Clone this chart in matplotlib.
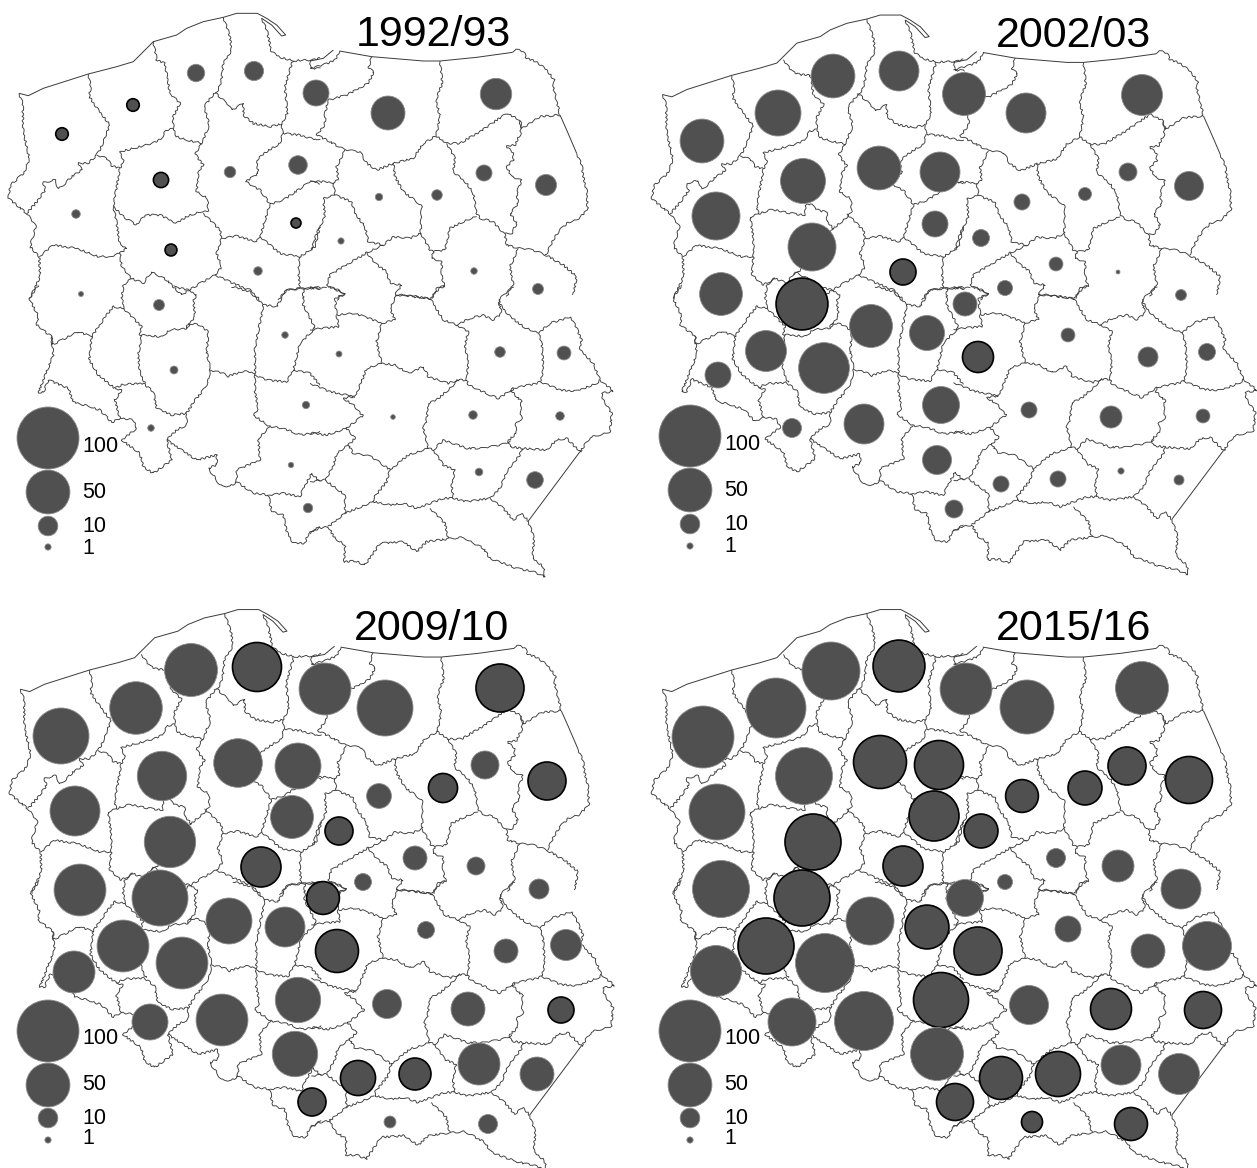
"""Four-panel proportional circle map of Poland's old voivodeships."""
import numpy as np
import matplotlib
matplotlib.use("Agg")
import matplotlib.pyplot as plt
from matplotlib.patches import Circle
from matplotlib.collections import LineCollection

plt.rcParams["font.family"] = ["Liberation Sans", "DejaVu Sans"]

W, H = 1257, 1168
FILL = "#505050"
BORDER = "#3a3a3a"
RADIUS_PER_SQRT = 3.1  # circle area is proportional to the value

TITLES = ["1992/93", "2002/03", "2009/10", "2015/16"]
LEGEND_VALUES = [100, 50, 10, 1]

# ── Borders, traced in four overlapping tiles of the first panel (tile px * 3) ──
# smooth sea coast and straight eastern frontier
COAST_A = [
    [(57,280),(85,287),(130,265),(265,222),(350,200),(400,185),(435,150),(460,125),(530,105),(560,85),(610,65),(670,52),(710,40),(772,40),(800,55),(830,75),(857,105),(845,108),(815,75),(785,55)],
]
COAST_B = [
    [(0,183),(40,175),(70,150)],
    [(88,153),(185,170),(340,183),(390,183),(500,172),(608,157)],
    [(750,345),(770,390),(800,460)],
]
COAST_D = [
    [(810,500),(655,708)],
]

TILE_A = [
    [(785,55),(800,90),(815,155),(840,172),(880,182),(930,180),(960,175)],
    [(57,280),(68,310),(70,395),(88,475),(75,515),(32,555),(25,595),(80,640),(108,680),(90,740),(118,770),(120,830),(90,895)],
    [(265,222),(272,260),(268,290),(295,330),(330,375),(315,410),(310,430),(290,465),(265,490),(235,490),(245,510),(215,530),(190,555),(175,565),(165,540),(130,548),(135,570),(115,600),(80,640)],
    [(290,465),(320,475),(335,497),(360,505),(370,480),(360,455),(440,435),(480,420),(500,390),(520,385)],
    [(510,280),(540,310),(520,350),(520,385),(530,410),(560,420),(605,430),(628,375),(612,320),(645,278),(680,310),(695,330),(730,310),(730,345),(760,370),(810,380),(845,372),(862,340),(855,260),(878,182)],
    [(670,52),(690,110),(695,150),(670,190),(665,235),(655,272),(645,278)],
    [(845,372),(848,400),(900,405),(950,420),(960,415)],
    [(848,400),(840,430),(800,455),(770,480),(775,520),(737,545),(780,570),(810,612),(850,600),(880,580),(930,545),(960,550)],
    [(605,430),(585,462),(610,495),(595,520),(590,575),(622,595),(625,635)],
    [(340,620),(355,530),(360,505)],
    [(395,835),(370,855),(365,900)],
    [(118,770),(160,735),(230,745),(295,770),(330,770)],
    [(610,640),(660,690),(665,715),(650,760),(665,800),(645,825),(600,850),(545,885),(500,840),(455,815),(430,850),(395,835)],
    [(665,715),(710,708),(770,725),(780,710),(810,612)],
    [(780,710),(840,760),(900,770),(945,740),(960,680)],
    [(900,770),(895,810),(900,865),(860,870),(835,900)],
    [(645,825),(700,850),(750,870),(780,900)],
    [(900,865),(960,865)],
    [(930,180),(930,205),(960,205)],
]
# the first season's map has other borders in the west-centre than the later ones
TILE_A_FIRST = [
    [(460,125),(470,180),(495,190),(510,280)],
    [(625,635),(600,635),(560,650),(530,670),(480,645),(435,645),(410,675),(370,650),(340,620)],
    [(340,620),(350,670),(360,735),(380,745),(360,760),(365,800),(395,835)],
    [(330,770),(360,760)],
]
TILE_A_LATER = [
    [(420,175),(445,210),(470,220),(500,220),(510,280)],
    [(625,635),(610,650),(570,685),(550,665),(552,635),(525,630),(500,610),(485,615),(485,645),(420,635),(385,627),(345,640),(340,620)],
    [(345,640),(320,650),(330,715),(330,770),(325,825),(360,855),(395,835)],
    [(570,685),(540,720),(500,790),(450,825)],
]
TILE_B = [
    [(0,205),(40,195),(75,180),(88,153)],
    [(608,157),(615,147),(640,155),(650,175),(680,185),(710,210),(733,240),(730,262),(750,345)],
    [(800,460),(815,495),(820,530),(830,570),(833,630),(800,660),(770,670),(745,695),(725,730),(707,765)],
    [(185,170),(175,205),(192,215),(175,250),(110,285),(55,300),(45,340),(45,375),(20,405),(50,420),(105,450),(150,455),(170,490),(200,510),(250,490),(310,475),(340,430),(378,408),(410,430),(450,430),(510,395),(590,340),(630,360),(635,385),(690,350),(750,345)],
    [(390,183),(397,250),(378,300),(390,350),(378,408)],
    [(630,360),(632,400),(615,435),(590,440),(610,460),(610,480),(590,500),(605,530),(635,540),(620,580),(625,610),(600,640),(620,670),(605,700),(585,700)],
    [(410,430),(435,475),(430,515),(470,550),(490,580),(500,640),(510,655),(550,665),(585,705),(590,735),(625,745),(670,750),(707,765),(760,795),(800,830),(790,885)],
    [(500,650),(470,660),(420,685),(405,750),(370,755),(365,775),(395,785),(395,830),(405,860),(380,865),(365,895)],
    [(105,450),(80,500),(85,540),(70,548),(40,545),(0,545)],
    [(70,548),(75,585),(125,605),(135,640),(165,680),(175,725),(220,735),(250,710),(300,715),(332,700),(335,620),(320,605),(280,575),(255,530),(250,490)],
    [(75,585),(40,595),(45,650),(20,700),(5,750)],
    [(332,700),(360,750),(370,755)],
    [(220,735),(170,758),(160,765),(100,800),(60,825),(50,855),(105,880),(80,900)],
    [(0,860),(50,865)],
    [(170,758),(195,790),(230,815),(240,850),(275,855),(255,885),(290,885),(350,895),(365,895)],
    [(625,745),(600,800),(610,850),(590,890)],
]
TILE_C = [
    [(960,725),(925,745),(915,775),(880,775),(860,740),(850,690),(815,680),(805,630),(760,625),(710,590),(690,605),(660,600),(625,550),(650,540),(650,510),(590,525),(500,465),(515,525),(460,565),(430,545),(420,505),(365,465),(410,430),(400,405),(360,400),(335,412),(300,375),(220,350),(205,310),(145,285),(130,322),(115,322),(160,210),(155,155),(110,120),(115,95),(88,40),(115,0)],
    [(370,45),(370,70),(340,65),(320,90),(275,155),(235,140),(195,160),(155,180),(155,155)],
    [(370,70),(425,125),(420,150),(485,155),(510,135),(560,130),(565,115),(600,120),(625,140),(620,200),(630,250),(625,290),(610,315),(585,345),(560,385),(515,390),(470,370),(460,320),(430,295),(370,298),(345,310),(295,270),(268,225),(275,155)],
    [(425,150),(415,210),(420,265),(435,295)],
    [(345,310),(365,315),(345,345),(360,400)],
    [(560,385),(560,420),(530,435),(500,465)],
    [(630,255),(670,265),(680,275),(730,258),(765,265),(765,190),(790,60),(830,65),(860,15),(910,10),(960,10)],
    [(790,60),(750,20),(695,5)],
    [(765,265),(765,320),(775,370),(760,390),(810,425),(850,430),(900,450),(960,440)],
    [(765,270),(800,285),(860,290),(880,255),(900,175),(945,130),(910,60),(910,10)],
    [(880,255),(930,265),(960,300)],
    [(810,425),(775,460),(780,525),(710,555),(710,590)],
    [(805,630),(850,625),(900,635),(910,610),(935,565),(960,590)],
    [(560,130),(585,95),(580,45),(590,30),(565,15),(520,5)],
]
TILE_D = [
    [(782,95),(800,130),(815,165),(810,195),(850,235),(870,285),(910,318),(875,325),(880,345),(905,385),(900,440),(840,458),(810,500)],
    [(655,708),(672,760),(668,820),(700,845),(705,875),(670,860),(620,850),(540,820),(520,790),(460,757),(410,762),(350,770),(320,800),(280,770),(210,775),(165,840),(135,828),(103,830),(105,780),(75,760),(55,725),(25,730),(0,745)],
    [(260,30),(240,70),(255,105),(215,115),(165,95),(130,85),(80,90),(75,40),(105,25),(55,5)],
    [(260,30),(360,40),(400,105),(440,120),(480,100),(520,90),(550,105),(575,85),(565,45),(610,5)],
    [(360,40),(400,0)],
    [(440,120),(475,140),(465,180),(475,235),(470,285),(475,300),(540,330),(565,340),(610,310),(605,320),(635,350),(630,380),(635,400),(615,420),(620,445),(595,465),(600,485),(635,490),(710,495),(740,465),(770,460),(805,495),(815,500)],
    [(610,310),(680,295),(690,290),(700,255),(695,170),(685,145),(720,115),(782,95)],
    [(690,290),(750,315),(800,318),(860,295),(870,285)],
    [(685,145),(640,125),(600,95),(575,65),(565,45)],
    [(215,115),(200,170),(215,235),(255,240),(295,265),(340,245),(355,275),(415,295),(445,285),(470,285)],
    [(215,235),(170,250),(155,290),(135,335),(100,340),(130,360),(158,392),(110,430),(135,460),(115,480),(130,505),(185,515),(240,555),(230,590),(190,640),(190,650),(240,660),(280,655),(320,670),(400,640),(430,640),(470,650),(540,640),(570,610),(590,560),(630,510),(635,490)],
    [(445,285),(420,310),(380,345),(355,355),(350,405),(340,430),(355,490),(370,495),(400,465),(470,490),(520,490),(590,475),(600,465)],
    [(355,490),(295,510),(240,555)],
    [(370,495),(400,540),(435,555),(425,600),(430,640)],
    [(540,640),(580,670),(610,705),(635,685),(655,708)],
    [(0,295),(60,320),(135,335)],
    [(110,430),(50,450),(0,445)],
    [(115,480),(80,505),(70,545),(45,585),(105,630),(105,685)],
    [(190,650),(105,685),(55,725)],
    [(360,670),(405,715),(415,760)],
    [(0,590),(45,585)],
    [(0,135),(35,130),(85,125),(80,90)],
]
ORIGIN_A, ORIGIN_B, ORIGIN_C, ORIGIN_D = (0, 0), (310, 0), (0, 285), (310, 285)

# ── Circles per season, in image pixels: centre, value, 1 = heavy black ring ──
X_1992 = [62,133,196,254,316,388,496,161,76,230,298,171,258,296,81,379,437,484,546,341,474,538,159,174,285,306,151,291,308,339,393,473,500,564,560,479,535]
Y_1992 = [134,105,73,71,93,113,94,180,214,172,165,250,271,223,294,197,195,173,185,241,271,289,305,370,335,405,428,465,508,354,417,415,352,353,416,472,480]
V_1992 = [4.1,4.1,7.9,9.6,17.6,30,25.6,6,1.9,3.4,9,3.7,1.9,2.6,0.65,1.4,2.9,6.7,11.5,1,1.1,3.1,3.1,1.6,1.1,1.4,1.1,0.75,2.3,0.9,0.55,1.9,2.9,5,1.9,1.5,7.2]
R_1992 = [1,1,0,0,0,0,0,1,0,0,0,1,0,1,0,0,0,0,0,0,0,0,0,0,0,0,0,0,0,0,0,0,0,0,0,0,0]

X_2002 = [833,899,964,1026,1142,778,702,803,879,940,716,812,1022,1085,1128,1189,935,981,721,802,903,1056,1118,1181,1005,965,871,927,1068,1148,1207,766,718,824,978,941,1029,1111,1203,792,864,937,1121,1058,1001,1179,954]
Y_2002 = [76,71,94,113,95,113,141,181,168,172,216,247,202,194,172,186,224,238,294,304,272,264,272,295,288,304,326,333,335,357,352,351,375,368,357,405,410,417,416,428,424,460,471,479,484,480,509]
V_2002 = [50,41.6,48,41.6,43.7,55,50,52.7,50,41.6,60,60,6.7,4.4,8.4,21.9,17.6,7.5,47.7,70,17.6,5,0.4,3.1,5.9,15,48,32,5,10.4,7.5,43.7,17.6,67,25,35.6,6.7,12.6,5,9.4,41.6,21.9,1,6.7,6.7,2.6,8.4]
R_2002 = [0,0,0,0,0,0,0,0,0,0,0,0,0,0,0,0,0,0,0,1,1,0,0,0,0,0,0,0,0,0,0,0,0,0,1,0,0,0,0,0,0,0,0,0,0,0,0]

X_2009 = [191,257,325,385,500,136,61,162,238,298,75,170,292,379,443,485,547,339,80,160,261,415,476,539,363,323,229,285,123,74,182,337,426,506,566,298,387,468,561,150,222,295,479,358,415,537,312,390,488]
Y_2009 = [670,667,689,708,688,708,736,776,763,766,811,842,817,796,788,765,781,831,890,898,867,858,866,889,882,898,921,927,946,972,963,951,930,951,945,1000,1004,1009,1010,1022,1020,1054,1064,1078,1074,1074,1102,1122,1124]
V_2009 = [73,62.5,70,81.6,60,72,81.6,63.5,61.5,55,65,68.7,48,16,22,20.4,37.6,20.4,70,81.6,41.6,15,8.4,10.4,7.5,28,55,41.6,70,45.9,70,48,7.5,15,25,53.6,21.9,30,17.6,33.7,70,53.6,45.9,32,26.6,30,20.4,3.7,9.4]
R_2009 = [0,1,0,0,1,0,0,0,0,0,0,0,0,0,1,0,1,1,0,0,1,0,0,0,0,1,0,0,0,0,0,1,0,0,0,0,0,0,1,0,0,0,0,1,1,0,1,0,0]

X_2015 = [831,899,966,1027,1142,776,703,804,880,939,717,813,934,1022,1085,1127,1189,981,721,802,903,1056,1118,1181,1005,965,870,927,1068,1148,1207,766,716,825,978,941,1029,1111,1203,792,864,937,1121,1058,1001,1179,955,1032,1131]
Y_2015 = [671,666,689,707,688,708,737,776,762,765,812,842,816,796,788,766,780,831,889,898,866,858,866,889,882,898,921,927,929,951,946,946,971,963,951,1000,1005,1009,1010,1022,1021,1054,1065,1074,1078,1074,1102,1122,1124]
V_2015 = [87.5,70,70,76,73,93.6,100,84.5,73,62.5,81.6,81.6,65,28,30,37.6,57.5,30,84.5,81.6,41.6,9.4,26.6,41.6,5.9,35.6,60,50,17.6,30,62.5,81.6,67.7,90.5,60,78.7,39.6,43.7,35.6,60,90.5,73,41.6,52.7,48,43.7,35.6,11.5,28.3]
R_2015 = [0,1,0,0,0,0,0,0,1,1,0,1,1,1,1,1,1,1,0,1,1,0,0,0,0,0,0,1,0,0,0,1,0,0,1,1,0,1,1,0,0,0,0,1,1,0,1,1,1]

SEASONS = [
    (X_1992, Y_1992, V_1992, R_1992),
    (X_2002, Y_2002, V_2002, R_2002),
    (X_2009, Y_2009, V_2009, R_2009),
    (X_2015, Y_2015, V_2015, R_2015),
]

# panel layout, image pixels: map shift and vertical squeeze against panel one
MAP_SHIFT = [(0, 0), (643.5, 1.8), (1.3, 596.3), (643.5, 596.3)]
MAP_YSCALE = [1.0, 0.9935, 0.9957, 0.9957]
TITLE_XY = [(433, 46), (1074, 47), (431, 640), (1074, 640)]
LEGEND_X = [48, 690, 48, 690]
LEGEND_Y = [
    [438, 492, 526, 547],
    [436, 490, 524, 546],
    [1031, 1085, 1118, 1140],
    [1031, 1085, 1118, 1140],
]
LEGEND_TEXT_Y = [
    [446, 492, 526, 548],
    [445, 491, 524, 546],
    [1038, 1085, 1118, 1139],
    [1038, 1085, 1118, 1139],
]


def radius(value):
    return RADIUS_PER_SQRT * np.sqrt(value)


def to_px(tile, origin):
    return [np.array(line, dtype=float) / 3 + origin for line in tile]


def panel_lines(panel):
    west = TILE_A_FIRST if panel == 0 else TILE_A_LATER
    return (to_px(TILE_A, ORIGIN_A) + to_px(west, ORIGIN_A) + to_px(TILE_B, ORIGIN_B)
            + to_px(TILE_C, ORIGIN_C) + to_px(TILE_D, ORIGIN_D))


COAST_LINES = to_px(COAST_A, ORIGIN_A) + to_px(COAST_B, ORIGIN_B) + to_px(COAST_D, ORIGIN_D)


def main():
    fig = plt.figure(figsize=(W / 100, H / 100), dpi=100)
    ax = fig.add_axes([0, 0, 1, 1])
    ax.set_xlim(0, W)
    ax.set_ylim(H, 0)
    ax.axis("off")

    for p, (dx, dy) in enumerate(MAP_SHIFT):
        move = np.array([1.0, MAP_YSCALE[p]])

        # wiggly land borders, the coast stays smooth
        land = LineCollection([ln * move + (dx, dy) for ln in panel_lines(p)],
                              colors=BORDER, linewidths=0.65, zorder=1)
        land.set_sketch_params(scale=0.9, length=9, randomness=4)
        ax.add_collection(land)
        ax.add_collection(LineCollection([ln * move + (dx, dy) for ln in COAST_LINES],
                                         colors=BORDER, linewidths=0.7, zorder=1))

        xs, ys, vals, rings = SEASONS[p]
        for x, y, v, ring in zip(xs, ys, vals, rings):
            edge, lw = ("black", 1.2) if ring else ("#8a8a8a", 0.6)
            ax.add_patch(Circle((x, y), radius(v), facecolor=FILL, edgecolor=edge,
                                linewidth=lw, zorder=2))

        ax.text(*TITLE_XY[p], TITLES[p], fontsize=31, ha="center", va="baseline", zorder=3)

        # size legend
        for val, cy, ty in zip(LEGEND_VALUES, LEGEND_Y[p], LEGEND_TEXT_Y[p]):
            ax.add_patch(Circle((LEGEND_X[p], cy), radius(val), facecolor=FILL,
                                edgecolor="#8a8a8a", linewidth=0.6, zorder=2))
            ax.text(LEGEND_X[p] + 34, ty, str(val), fontsize=15.5, ha="left",
                    va="center", zorder=3)

    fig.savefig("out.png", dpi=100)


if __name__ == "__main__":
    main()
